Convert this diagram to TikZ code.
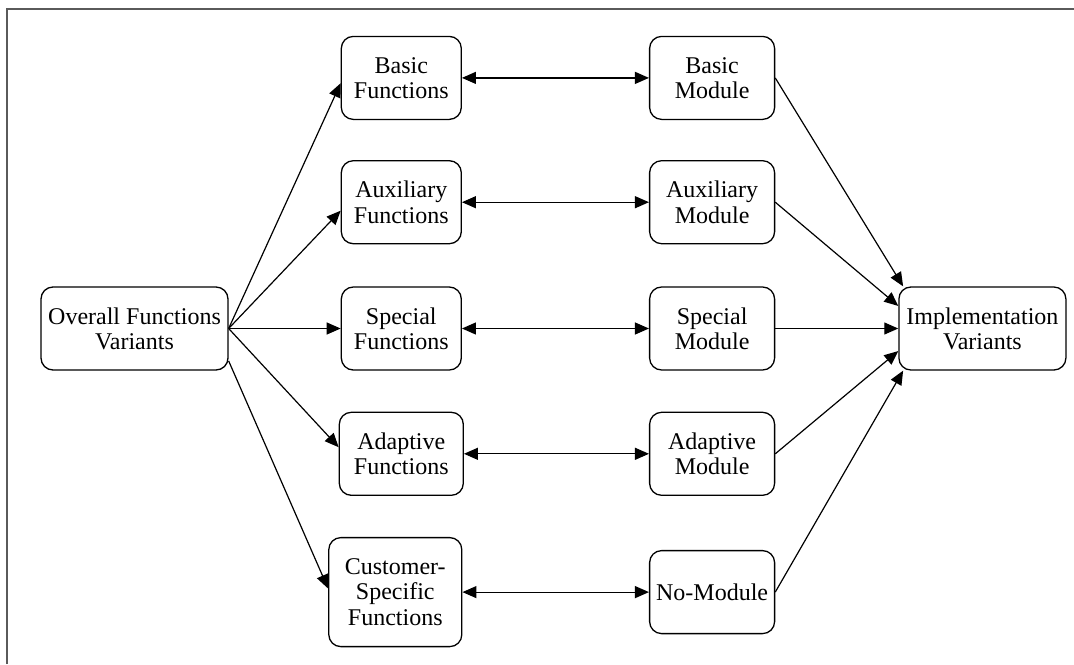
\documentclass[tikz,border=0pt]{standalone}
\usepackage{fontspec}
\setmainfont{Liberation Serif}
\usepackage{tikz}
\usetikzlibrary{arrows.meta,positioning}
\definecolor{framegray}{RGB}{90,90,90}

\begin{document}
\begin{tikzpicture}[
    node distance=20pt and 56pt,
    box/.style={rectangle, draw, rounded corners=6pt, line width=0.65pt, minimum width=60pt, minimum height=41.5pt, inner sep=2pt, align=center, font=\fontsize{12}{12.6}\selectfont},
    arrow/.style={-{Triangle[length=7pt,width=6pt]}, line width=0.6pt},
    darrow/.style={{Triangle[length=7pt,width=6pt]}-{Triangle[length=7pt,width=6pt]}, line width=0.6pt}
]
    \useasboundingbox (0,0) rectangle (537pt,-332pt);
    \draw[framegray, line width=1pt] (3.5pt,-332pt) |- (537pt,-4.25pt);

    % functions side
    \node[box, minimum width=93.5pt] (ovr) at (67.25pt,-164.25pt) {Overall Functions\\Variants};
    \node[box, right=56pt of ovr] (sf) {Special\\Functions};
    \node[box, above=21pt of sf] (af) {Auxiliary\\Functions};
    \node[box, above=20pt of af] (bf) {Basic\\Functions};
    \node[box, minimum width=62pt, below=20.5pt of sf] (adf) {Adaptive\\Functions};
    \node[box, minimum width=66.5pt, minimum height=54.5pt, below=20.5pt of adf, xshift=-3pt] (cf) {Customer-\\Specific\\Functions};

    % module side
    \node[box, minimum width=62.5pt, right=93.5pt of sf] (sm) {Special\\Module};
    \node[box, minimum width=62.5pt, above=21pt of sm] (am) {Auxiliary\\Module};
    \node[box, minimum width=62.5pt, above=20pt of am] (bm) {Basic\\Module};
    \node[box, minimum width=62.5pt, below=20.5pt of sm] (adm) {Adaptive\\Module};
    \node[box, minimum width=62.5pt, below=27pt of adm] (nm) {No-Module};
    \node[box, minimum width=83.5pt, right=61.5pt of sm] (imp) {Implementation\\Variants};

    \draw[arrow] (ovr.east) -- (bf.185);
    \draw[arrow] (ovr.east) -- (af.188);
    \draw[arrow] (ovr.east) -- (sf.west);
    \draw[arrow] (ovr.east) -- (adf.174);
    \draw[arrow] (ovr.-19) -- (cf.177);

    \draw[darrow] (bf) -- (bm);
    \draw[darrow] (af) -- (am);
    \draw[darrow] (sf) -- (sm);
    \draw[darrow] (adf) -- (adm);
    \draw[darrow] (cf) -- (nm);

    \draw[arrow] (bm.east) -- (imp.152);
    \draw[arrow] (am.east) -- (imp.165);
    \draw[arrow] (sm.east) -- (imp.west);
    \draw[arrow] (adm.east) -- (imp.195);
    \draw[arrow] (nm.east) -- (imp.208);
\end{tikzpicture}
\end{document}
